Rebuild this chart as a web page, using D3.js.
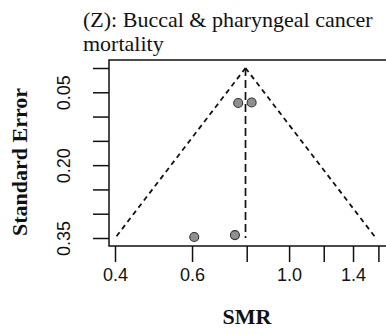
<!DOCTYPE html>
<html>
<head>
<meta charset="utf-8">
<script src="https://cdn.jsdelivr.net/npm/d3@7"></script>
<style>
html,body{margin:0;padding:0;background:#fff;}
svg{display:block;}
</style>
</head>
<body>
<svg id="chart" width="386" height="334"></svg>
<script>
// ---- data ----
const titleLines = ["(Z): Buccal & pharyngeal cancer", "mortality"];
const smrValues = [0.765, 0.821, 0.607, 0.752];
const seValues = [0.072, 0.071, 0.348, 0.344];
const pooledSMR = 0.795;
const maxSE = 0.35;
const xTickValues = [0.4, 0.6, 0.8, 1.0, 1.2, 1.4, 1.6];
const xTickLabels = ["0.4", "0.6", "", "1.0", "", "1.4", ""];
const yTickValues = [0, 0.05, 0.10, 0.15, 0.20, 0.25, 0.30, 0.35];
const yTickLabels = ["", "0.05", "", "", "0.20", "", "", "0.35"];
const xTitle = "SMR";
const yTitle = "Standard Error";

// ---- layout ----
const svg = d3.select("#chart");
const box = {left: 109, right: 388, top: 60, bottom: 246};
const x = d3.scaleLog().domain([0.4, 1.6]).range([115, 115 + 190 * Math.log(4)]);
const y = d3.scaleLinear().domain([0, 0.35]).range([68, 238]);

// title
svg.append("g").selectAll("text").data(titleLines).join("text")
  .attr("x", 83).attr("y", (d, i) => 27 + i * 24)
  .attr("font-family", "'Liberation Serif', 'Times New Roman', serif")
  .attr("font-size", 22).attr("fill", "#111")
  .text(d => d);

// funnel (clipped to box)
svg.append("clipPath").attr("id", "clip").append("rect")
  .attr("x", box.left).attr("y", box.top)
  .attr("width", box.right - box.left).attr("height", box.bottom - box.top);
const plot = svg.append("g").attr("clip-path", "url(#clip)");
const z = 1.96;
const funnelLeft = [[pooledSMR, 0], [pooledSMR * Math.exp(-z * maxSE), maxSE]];
const funnelRight = [[pooledSMR, 0], [pooledSMR * Math.exp(z * maxSE), maxSE]];
const line = d3.line().x(d => x(d[0])).y(d => y(d[1]));
[funnelLeft, funnelRight].forEach(seg => {
  plot.append("path").attr("d", line(seg))
    .attr("fill", "none").attr("stroke", "#111").attr("stroke-width", 1.8)
    .attr("stroke-dasharray", "5,4");
});
plot.append("path").attr("d", line([[pooledSMR, 0], [pooledSMR, maxSE]]))
  .attr("fill", "none").attr("stroke", "#111").attr("stroke-width", 1.7)
  .attr("stroke-dasharray", "8,4");

// points
plot.selectAll("circle").data(smrValues).join("circle")
  .attr("cx", d => x(d)).attr("cy", (d, i) => y(seValues[i]))
  .attr("r", 4.5).attr("fill", "#8f8f8f").attr("stroke", "#333").attr("stroke-width", 1.1);

// box
svg.append("rect").attr("x", box.left).attr("y", box.top)
  .attr("width", box.right - box.left).attr("height", box.bottom - box.top)
  .attr("fill", "none").attr("stroke", "#111").attr("stroke-width", 1.5);

// x axis
const xAxis = d3.axisBottom(x).tickValues(xTickValues)
  .tickFormat((d, i) => xTickLabels[i]).tickSize(16).tickPadding(6);
const gx = svg.append("g").attr("transform", `translate(0,${box.bottom})`).call(xAxis);
gx.select(".domain").remove();
gx.selectAll(".tick line").attr("stroke", "#111").attr("stroke-width", 1.5);
gx.selectAll(".tick text").attr("font-family", "'Liberation Sans', Arial, sans-serif")
  .attr("font-size", 18).attr("fill", "#111");

// y axis
const yAxis = d3.axisLeft(y).tickValues(yTickValues)
  .tickFormat((d, i) => yTickLabels[i]).tickSize(16).tickPadding(6);
const gy = svg.append("g").attr("transform", `translate(${box.left},0)`).call(yAxis);
gy.select(".domain").remove();
gy.selectAll(".tick line").attr("stroke", "#111").attr("stroke-width", 1.5);
gy.selectAll(".tick text")
  .attr("font-family", "'Liberation Sans', Arial, sans-serif")
  .attr("font-size", 18).attr("fill", "#111")
  .attr("text-anchor", "middle").attr("dy", null).attr("x", null)
  .attr("transform", "translate(-45,0) rotate(-90)")
  .attr("dominant-baseline", "central");

// axis titles
svg.append("text").attr("x", 247).attr("y", 324).attr("text-anchor", "middle")
  .attr("font-family", "'Liberation Serif', 'Times New Roman', serif")
  .attr("font-weight", "bold").attr("font-size", 22).attr("fill", "#111")
  .text(xTitle);
svg.append("text").attr("transform", "translate(27,162) rotate(-90)")
  .attr("text-anchor", "middle")
  .attr("font-family", "'Liberation Serif', 'Times New Roman', serif")
  .attr("font-weight", "bold").attr("font-size", 22).attr("fill", "#111")
  .text(yTitle);
</script>
</body>
</html>
